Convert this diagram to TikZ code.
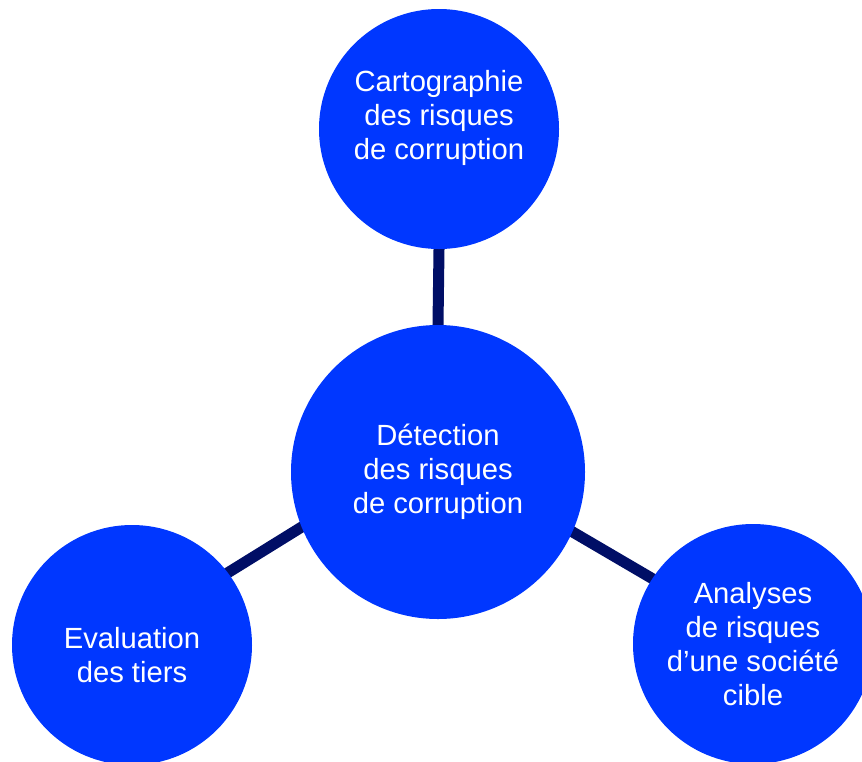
\documentclass[tikz,border=0pt]{standalone}
\usepackage{fontspec}
\setmainfont{Liberation Sans}
\usetikzlibrary{backgrounds}
\definecolor{bubbleblue}{HTML}{0037FF}
\definecolor{linknavy}{HTML}{000E66}
\tikzstyle{bubbletxt}=[text=white, align=center, font=\fontsize{14.6}{17}\selectfont]
\tikzstyle{bubble}=[circle, fill=bubbleblue, inner sep=0pt, minimum size=120pt, bubbletxt]
\tikzstyle{link}=[linknavy, line width=5.5pt, shorten <=-4pt, shorten >=-4pt]

\begin{document}
\begin{tikzpicture}[x=0.5pt, y=-0.5pt]
  \useasboundingbox (0,0) rectangle (862,761);
  \node[bubble, minimum size=147pt] (detect) at (438,472)
    {Détection\\des risques\\de corruption};
  \node[bubble, label={[name=carto-txt, bubbletxt, yshift=5.5pt]center:{Cartographie\\des risques\\de corruption}}]
    (carto) at (439,129) {};
  \node[bubble, label={[name=eval-txt, bubbletxt, yshift=-5pt]center:{Evaluation\\des tiers}}]
    (eval) at (132,645) {};
  \node[bubble] (cible) at (753,644) {Analyses\\de risques\\d’une société\\cible};

  \begin{scope}[on background layer]
    \draw[link] (detect.90) -- (carto.270);
    \draw[link] (detect.202) -- (eval.37.5);
    \draw[link] (detect.336) -- (cible.147.6);
  \end{scope}
\end{tikzpicture}
\end{document}
